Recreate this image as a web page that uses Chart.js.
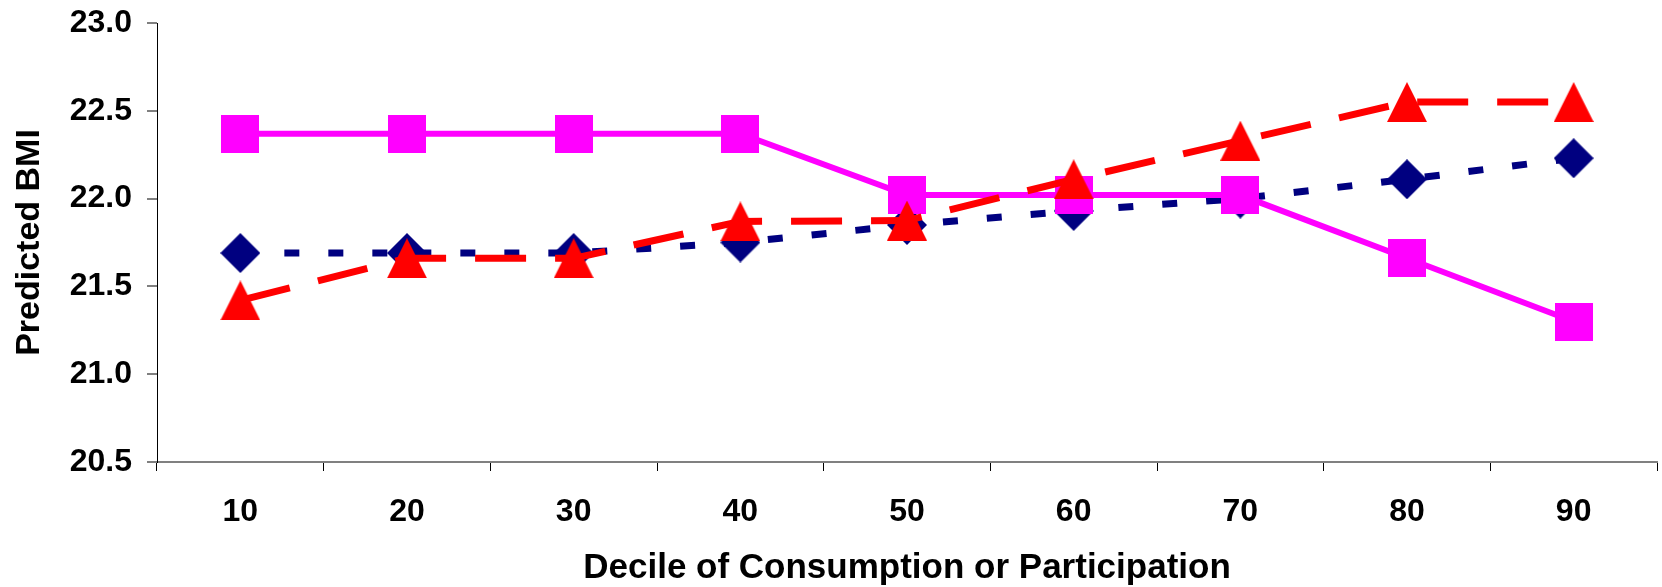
<!DOCTYPE html>
<html lang="en">
<head>
    <meta charset="UTF-8">
    <title>Predicted BMI</title>
    <script src="https://cdn.jsdelivr.net/npm/chart.js@4.4.0/dist/chart.umd.min.js"></script>
    <style>
        body{ margin:0; background:#fff; }
        #board{ width:1662px; height:587px; }
    </style>
</head>
<body>
    <div id="board">
        <canvas id="chart1" width="1662" height="587"></canvas>
    </div>
<script>
    // data
    const deciles = ['10','20','30','40','50','60','70','80','90'];
    const diamondSeries = [21.69, 21.69, 21.69, 21.75, 21.85, 21.93, 22.00, 22.11, 22.23];
    const squareSeries  = [22.37, 22.37, 22.37, 22.37, 22.02, 22.02, 22.02, 21.66, 21.30];
    const triangleSeries = [21.42, 21.66, 21.66, 21.87, 21.875, 22.11, 22.33, 22.55, 22.55];
    const yMin = 20.5, yMax = 23.0, yStep = 0.5;

    const font = "'Liberation Sans', Arial, sans-serif";

    // excel-like markers, drawn on small canvases and centered on the point
    function marker(shape, w, h, color){
        const c = document.createElement('canvas');
        c.width = w; c.height = h;
        const g = c.getContext('2d');
        g.fillStyle = color;
        g.beginPath();
        if(shape === 'triangle'){
            g.moveTo(w/2, 0);
            g.lineTo(w, h);
            g.lineTo(0, h);
        }else if(shape === 'diamond'){
            g.moveTo(w/2, 0);
            g.lineTo(w, h/2);
            g.lineTo(w/2, h);
            g.lineTo(0, h/2);
        }else{
            g.rect(0, 0, w, h);
        }
        g.closePath();
        g.fill();
        return c;
    }

    const ctx = document.getElementById('chart1').getContext('2d');

    new Chart(ctx, {
        type: 'line',
        data: {
            labels: deciles,
            datasets: [
                {
                    label: 'diamond',
                    data: diamondSeries,
                    order: 2,
                    borderColor: '#000080',
                    backgroundColor: '#000080',
                    borderWidth: 7,
                    borderDash: [15, 29],
                    pointStyle: marker('diamond', 40, 40, '#000080'),
                    pointRadius: 1,
                    pointBorderWidth: 0,
                    tension: 0,
                    clip: false
                },
                {
                    label: 'square',
                    data: squareSeries,
                    order: 1,
                    borderColor: '#FF00FF',
                    backgroundColor: '#FF00FF',
                    borderWidth: 6,
                    pointStyle: marker('square', 38, 38, '#FF00FF'),
                    pointRadius: 1,
                    pointBorderWidth: 0,
                    tension: 0,
                    clip: false
                },
                {
                    label: 'triangle',
                    data: triangleSeries,
                    order: 0,
                    borderColor: '#FF0000',
                    backgroundColor: '#FF0000',
                    borderWidth: 7,
                    borderDash: [51, 29],
                    pointStyle: marker('triangle', 40, 40, '#FF0000'),
                    pointRadius: 1,
                    pointBorderWidth: 0,
                    tension: 0,
                    clip: false
                }
            ]
        },
        options: {
            responsive: false,
            animation: false,
            layout: { padding: { top: 23, right: 5, left: 0, bottom: 0 } },
            plugins: {
                legend: { display: false },
                tooltip: { enabled: false }
            },
            scales: {
                x: {
                    offset: true,
                    afterFit: function(s){ s.height = 125; },
                    grid: {
                        offset: true,
                        drawOnChartArea: false,
                        color: '#000000',
                        tickLength: 9,
                        lineWidth: 1
                    },
                    border: { color: '#808080', width: 2 },
                    ticks: {
                        color: '#000',
                        padding: 22,
                        maxRotation: 0,
                        font: { family: font, size: 32, weight: 'bold' }
                    },
                    title: {
                        display: true,
                        text: 'Decile of Consumption or Participation',
                        color: '#000',
                        padding: { top: 0, bottom: 1 },
                        font: { family: font, size: 35, weight: 'bold', lineHeight: 1.0 }
                    }
                },
                y: {
                    min: yMin,
                    max: yMax,
                    afterFit: function(s){
                        s.width = 157;
                        s.paddingTop = 0;
                        s.paddingBottom = 0;
                    },
                    grid: {
                        drawOnChartArea: false,
                        color: '#808080',
                        tickLength: 10,
                        lineWidth: 2
                    },
                    border: { color: '#000000', width: 1 },
                    ticks: {
                        stepSize: yStep,
                        color: '#000',
                        padding: 15,
                        font: { family: font, size: 32, weight: 'bold' },
                        callback: function(v){ return Number(v).toFixed(1); }
                    },
                    title: {
                        display: true,
                        text: 'Predicted BMI',
                        color: '#000',
                        padding: { top: 13, bottom: 0 },
                        font: { family: font, size: 34, weight: 'bold', lineHeight: 1.0 }
                    }
                }
            }
        }
    });
</script>
</body>
</html>
